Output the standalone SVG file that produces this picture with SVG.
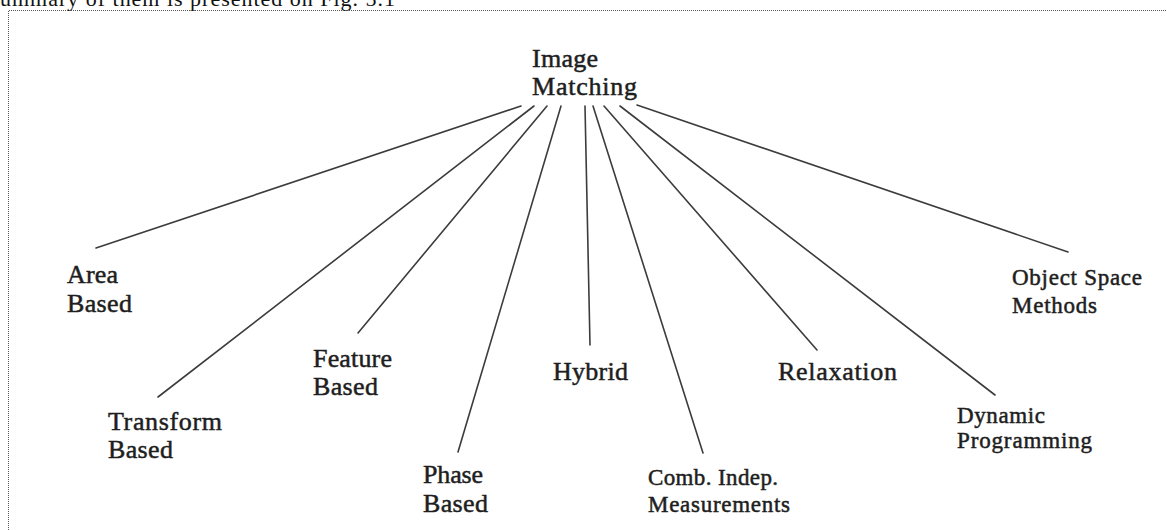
<svg xmlns="http://www.w3.org/2000/svg" width="1167" height="530" viewBox="0 0 1167 530">
<style>
.lbl{font-family:"Liberation Serif","Times New Roman",serif;font-size:26px;fill:#1e1e1e;stroke:#1e1e1e;stroke-width:0.5px}
.sm{font-size:23px}
.cap{font-family:"Liberation Serif","Times New Roman",serif;font-size:22px;fill:#111}
.edge{stroke:#3c3c3c;stroke-width:1.6;fill:none;stroke-linecap:round}
.frame{stroke:#555;stroke-width:1;fill:none;stroke-dasharray:1 1}
</style>
<rect width="1167" height="530" fill="#fff"/>
<text class="cap" x="0" y="6" textLength="395">ummary of them is presented on Fig. 5.1</text>
<path class="frame" d="M8.5,530 V10.5 H1167"/>
<g id="connectors">
<line class="edge" x1="521" y1="106" x2="96" y2="248"/>
<line class="edge" x1="534" y1="106" x2="158" y2="397"/>
<line class="edge" x1="547" y1="106" x2="358" y2="333"/>
<line class="edge" x1="561" y1="106" x2="458" y2="452"/>
<line class="edge" x1="585" y1="106" x2="590" y2="345"/>
<line class="edge" x1="593" y1="106" x2="703" y2="453"/>
<line class="edge" x1="604" y1="106" x2="817" y2="350"/>
<line class="edge" x1="620" y1="106" x2="995" y2="395"/>
<line class="edge" x1="637" y1="105" x2="1068" y2="252"/>
</g>
<g id="root"><text class="lbl" x="532" y="67" textLength="66">Image</text><text class="lbl" x="532" y="95" textLength="105">Matching</text></g>
<g id="area"><text class="lbl" x="67" y="283" textLength="51">Area</text><text class="lbl" x="67" y="312" textLength="65">Based</text></g>
<g id="transform"><text class="lbl" x="108" y="430" textLength="114">Transform</text><text class="lbl" x="108" y="458" textLength="65">Based</text></g>
<g id="feature"><text class="lbl" x="313" y="367" textLength="79">Feature</text><text class="lbl" x="313" y="395" textLength="65">Based</text></g>
<g id="phase"><text class="lbl" x="423" y="483" textLength="60">Phase</text><text class="lbl" x="423" y="512" textLength="65">Based</text></g>
<g id="hybrid"><text class="lbl" x="553" y="380" textLength="75">Hybrid</text></g>
<g id="comb"><text class="lbl sm" x="648" y="485" textLength="130">Comb. Indep.</text><text class="lbl sm" x="648" y="512" textLength="142">Measurements</text></g>
<g id="relaxation"><text class="lbl" x="778" y="380" textLength="119">Relaxation</text></g>
<g id="dynamic"><text class="lbl sm" x="957" y="423" textLength="88">Dynamic</text><text class="lbl sm" x="957" y="448" textLength="135">Programming</text></g>
<g id="object"><text class="lbl sm" x="1012" y="285" textLength="130">Object Space</text><text class="lbl sm" x="1012" y="313" textLength="85">Methods</text></g>
</svg>
